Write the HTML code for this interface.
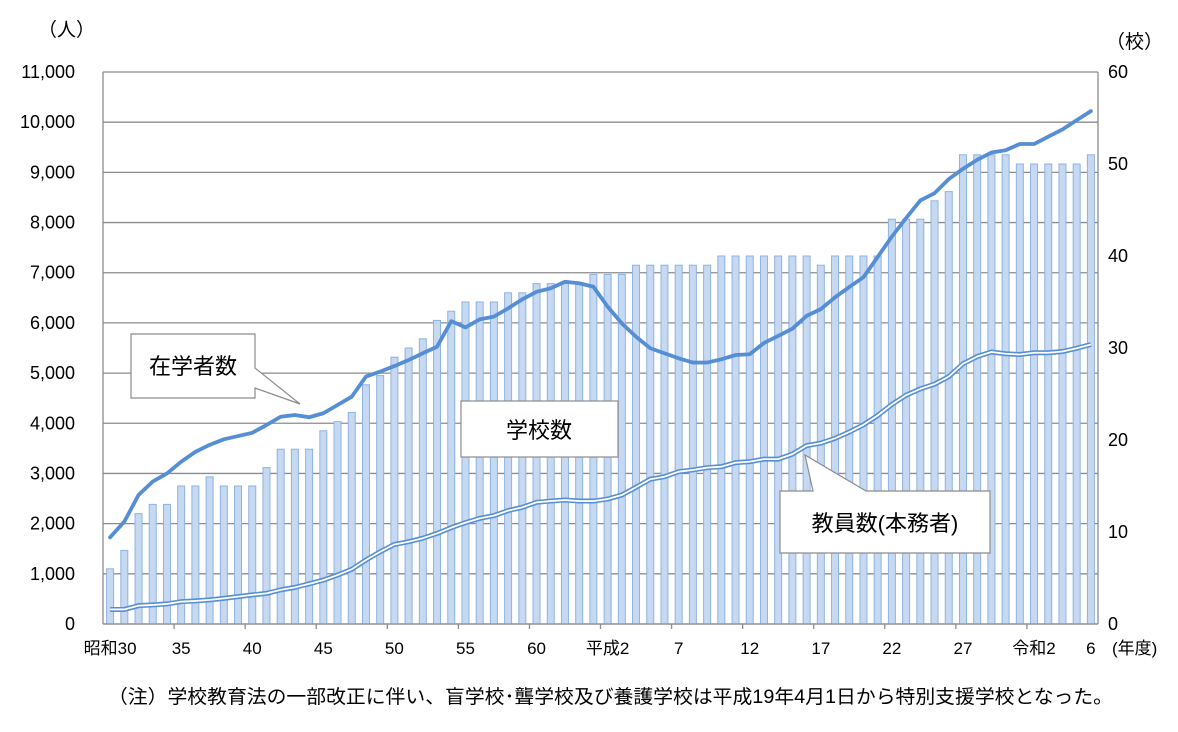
<!DOCTYPE html>
<html><head><meta charset="utf-8"><style>
body{margin:0;background:#fff;}
svg{display:block;font-family:"Liberation Sans","Noto Sans CJK JP",sans-serif;}
</style></head><body>
<svg id="chart" width="1178" height="732" viewBox="0 0 1178 732"></svg>
<script>
const years = ["昭和30","","","","","35","","","","","40","","","","","45","","","","","50","","","","","55","","","","","60","","","","","平成2","","","","","7","","","","","12","","","","","17","","","","","22","","","","","27","","","","","令和2","","","","6"];
const schools = [6,8,12,13,13,15,15,16,15,15,15,17,19,19,19,21,22,23,26,27,29,30,31,33,34,35,35,35,36,36,37,37,37,37,38,38,38,39,39,39,39,39,39,40,40,40,40,40,40,40,39,40,40,40,40,44,44,44,46,47,51,51,51,51,50,50,50,50,50,51];
const students = [1727,2040,2570,2840,3000,3235,3430,3570,3680,3745,3810,3965,4130,4165,4120,4200,4365,4530,4930,5030,5140,5260,5395,5525,6035,5910,6070,6125,6290,6470,6620,6690,6820,6790,6720,6325,5990,5725,5495,5395,5295,5210,5210,5275,5360,5375,5600,5740,5885,6140,6275,6510,6715,6910,7315,7720,8090,8440,8585,8865,9070,9250,9395,9440,9565,9565,9710,9855,10040,10220];
const teachers = [290,290,365,380,400,445,460,480,510,545,580,610,680,730,800,875,975,1090,1275,1440,1585,1640,1710,1805,1920,2020,2105,2160,2260,2325,2425,2450,2470,2450,2450,2490,2570,2725,2885,2935,3035,3070,3115,3135,3215,3235,3285,3285,3385,3555,3605,3700,3825,3970,4155,4375,4560,4685,4780,4930,5185,5330,5420,5385,5370,5405,5405,5430,5495,5570];
const leftTicks = ["0","1,000","2,000","3,000","4,000","5,000","6,000","7,000","8,000","9,000","10,000","11,000"];
const rightTicks = ["0","10","20","30","40","50","60"];

const NS="http://www.w3.org/2000/svg";
const svg=document.getElementById('chart');
const X0=103,X1=1098,Y0=624,Y1=72;
const band=(X1-X0)/years.length;
const xc=i=>X0+band*(i+0.5);
const yL=v=>Y0-(v/11000)*(Y0-Y1);
const yR=v=>Y0-(v/60)*(Y0-Y1);
function mk(tag,attrs,parent){const e=document.createElementNS(NS,tag);for(const k in attrs)e.setAttribute(k,attrs[k]);(parent||svg).appendChild(e);return e;}

const grid=mk('g',{});


for(let i=0;i<leftTicks.length;i++){
  const y=yL(i*1000);
  const l=mk('line',{x1:X0,x2:X1,y1:y,y2:y,stroke:'#8c8c8c','stroke-width':1.3},grid);
  
  
  const t=mk('text',{x:75,y:y+6,'text-anchor':'end','font-size':18,fill:'#000'});
  t.textContent=leftTicks[i];
  
  
}
for(let i=0;i<rightTicks.length;i++){
  const y=yR(i*10);
  const t=mk('text',{x:1108,y:y+6,'font-size':18,fill:'#000'});
  t.textContent=rightTicks[i];
  
  
}
const la=mk('line',{x1:X0,x2:X0,y1:Y1,y2:Y0,stroke:'#8c8c8c','stroke-width':1.3});


const ra=mk('line',{x1:X1,x2:X1,y1:Y1,y2:Y0,stroke:'#8c8c8c','stroke-width':1.3});



const bars=mk('g',{});


schools.forEach((v,i)=>{
  const y=yR(v);
  const r=mk('rect',{x:xc(i)-3.5,y:y,width:7,height:Y0-y,fill:'#c6d9f1',stroke:'#8db3e2','stroke-width':1},bars);
  
  
});
const xa=mk('line',{x1:X0,x2:X1,y1:Y0,y2:Y0,stroke:'#8c8c8c','stroke-width':1.3});


years.forEach((lab,i)=>{
  if(i%5===0 && i>0){
    const tk=mk('line',{x1:X0+band*i,x2:X0+band*i,y1:Y0,y2:Y0+5,stroke:'#8c8c8c','stroke-width':1.3});
    
    
  }
  if(lab){
    const t=mk('text',{x:xc(i),y:654,'text-anchor':'middle','font-size':17,fill:'#000'});
    t.textContent=lab;
    
    
  }
});

const tp=teachers.map((v,i)=>xc(i)+','+yL(v)).join(' ');
const t1=mk('polyline',{points:tp,fill:'none',stroke:'#558ed5','stroke-width':5,'stroke-linejoin':'round'});


const t2=mk('polyline',{points:tp,fill:'none',stroke:'#fff','stroke-width':1.8,'stroke-linejoin':'round'});


const sp=students.map((v,i)=>xc(i)+','+yL(v)).join(' ');
const s1=mk('polyline',{points:sp,fill:'none',stroke:'#558ed5','stroke-width':3.8,'stroke-linejoin':'round','stroke-linecap':'round'});


</script>
<svg width="1178" height="732" style="position:absolute;left:0;top:0;font-family:'Liberation Sans','Noto Sans CJK JP',sans-serif">
  <text x="38" y="36" font-size="19">（人）</text>
  <text x="1106" y="48" font-size="19">（校）</text>
  <text x="1112" y="654" font-size="17">(年度)</text>
  <g>
    <path d="M131,334 H255 V368 L300,404 L255,388 V398 H131 Z" fill="#fff" stroke="#8c8c8c" stroke-width="1.2"/>
    <text x="193" y="374" font-size="22" text-anchor="middle">在学者数</text>
  </g>
  <g>
    <rect x="461" y="401" width="157" height="56" fill="#fff" stroke="#8c8c8c" stroke-width="1.2"/>
    <text x="539" y="438" font-size="22" text-anchor="middle">学校数</text>
  </g>
  <g>
    <path d="M780,491 H813 L805,455 L866,491 H990 V553 H780 Z" fill="#fff" stroke="#8c8c8c" stroke-width="1.2"/>
    <text x="885" y="531" font-size="22" text-anchor="middle">教員数(本務者)</text>
  </g>
  <text x="108" y="703" font-size="19" textLength="1005" lengthAdjust="spacingAndGlyphs">（注）学校教育法の一部改正に伴い、盲学校･聾学校及び養護学校は平成19年4月1日から特別支援学校となった。</text>
</svg>
</body></html>
